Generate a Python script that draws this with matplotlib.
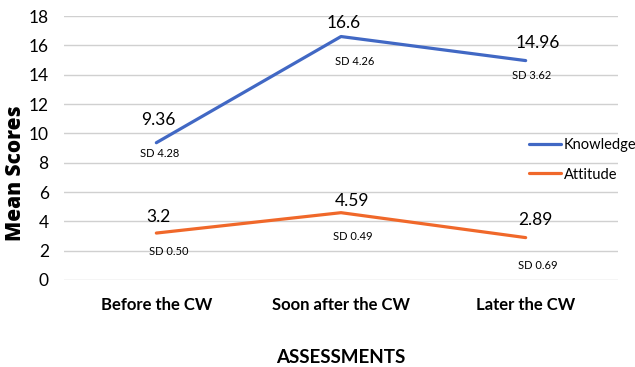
import matplotlib.pyplot as plt

# data
stages = ["Before the CW", "Soon after the CW", "Later the CW"]
knowledge = [9.36, 16.6, 14.96]
attitude = [3.2, 4.59, 2.89]
knowledge_sd = ["SD 4.28", "SD 4.26", "SD 3.62"]
attitude_sd = ["SD 0.50", "SD 0.49", "SD 0.69"]
yticks = [0, 2, 4, 6, 8, 10, 12, 14, 16, 18]

plt.rcParams['font.family'] = ['Lato', 'DejaVu Sans']

fig = plt.figure(figsize=(6.35, 3.67), dpi=100)
ax = fig.add_axes([64 / 635, 1 - 280 / 367, 554 / 635, 264 / 367])

x = list(range(len(stages)))
ax.plot(x, knowledge, color='#4168c4', lw=2.3, solid_capstyle='round', label='Knowledge')
ax.plot(x, attitude, color='#f0682a', lw=2.3, solid_capstyle='round', label='Attitude')

# label offsets in pixels from each point (value above, SD below)
k_val_off = [(2, 23), (3, 14), (12, 18)]
k_sd_off = [(3, -11), (14, -25), (6, -15)]
a_val_off = [(2, 16), (11, 12), (10, 18)]
a_sd_off = [(12, -18), (12, -24), (12, -28)]
for i in x:
    ax.annotate(f"{knowledge[i]:g}", (i, knowledge[i]), xytext=k_val_off[i],
                textcoords='offset pixels', ha='center', va='center', fontsize=12.5)
    ax.annotate(knowledge_sd[i], (i, knowledge[i]), xytext=k_sd_off[i],
                textcoords='offset pixels', ha='center', va='center', fontsize=8)
    ax.annotate(f"{attitude[i]:g}", (i, attitude[i]), xytext=a_val_off[i],
                textcoords='offset pixels', ha='center', va='center', fontsize=12.5)
    ax.annotate(attitude_sd[i], (i, attitude[i]), xytext=a_sd_off[i],
                textcoords='offset pixels', ha='center', va='center', fontsize=8)

ax.set_xlim(-0.5, 2.5)
ax.set_ylim(0, 18)
ax.set_yticks(yticks)
ax.set_xticks(x)
ax.set_xticklabels(stages, fontsize=12, fontweight='bold')
ax.tick_params(axis='y', labelsize=12.5, length=0, pad=11)
ax.tick_params(axis='x', length=0, pad=12)
ax.grid(axis='y', color='#d0d0d0', lw=1)
ax.set_axisbelow(True)
for s in ax.spines.values():
    s.set_visible(False)

ax.set_ylabel("Mean Scores", fontsize=15, fontweight='heavy', va='center',
              family=['Open Sans', 'DejaVu Sans'])
ax.yaxis.set_label_coords(-48 / 554, 107 / 264)
ax.set_xlabel("ASSESSMENTS", fontsize=13.5, fontweight='bold', labelpad=26)

ax.legend(loc='center left', bbox_to_anchor=(0.828, 0.455), frameon=False,
          fontsize=10.5, handlelength=2.2, handletextpad=0.2, labelspacing=1.05,
          borderaxespad=0)

fig.savefig("out.png", dpi=100)
